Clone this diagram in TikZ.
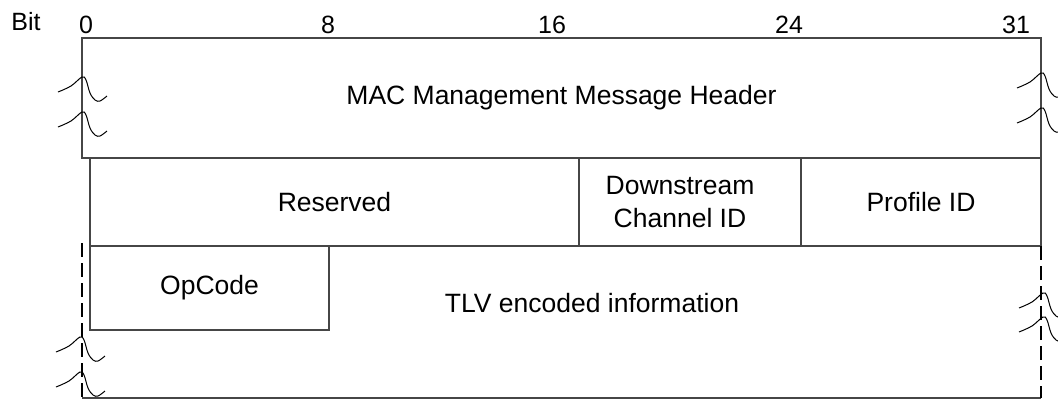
\documentclass[tikz,border=0pt]{standalone}
\usepackage{fontspec}
\setmainfont{Liberation Sans}
\definecolor{linegray}{RGB}{70,70,70}
\tikzset{
  field/.style={draw=linegray, line width=1.3pt, inner sep=0pt, outer sep=0pt,
    align=center, font=\fontsize{26.5}{33}\selectfont},
  lbl/.style={inner sep=0pt, align=center, font=\fontsize{26.5}{33}\selectfont},
  bitlbl/.style={inner sep=0pt, anchor=base, font=\fontsize{25}{30}\selectfont},
  dashline/.style={draw=black, line width=2.8pt, dash pattern=on 14pt off 6pt},
  solidline/.style={draw=linegray, line width=1.3pt},
  brk/.pic={\draw[black, line width=1pt] plot[smooth, tension=0.6] coordinates
    {(-26,15) (-13,9) (-2,0) (2,3) (6,16) (11,23) (16,24) (23,19)};}
}
\begin{document}
\begin{tikzpicture}[x=1pt, y=-1pt]
\useasboundingbox (0,0) rectangle (1058,402);
% bit labels
\node[bitlbl] (bit) at (26,30) {Bit};
\node[bitlbl] (b0) at (86,33) {0};
\node[bitlbl] (b8) at (328,33) {8};
\node[bitlbl] (b16) at (552,33) {16};
\node[bitlbl] (b24) at (789,33) {24};
\node[bitlbl] (b31) at (1016,33) {31};
% header
\node[field, minimum width=959pt, minimum height=120pt] (hdr) at (561.5,98) {MAC Management Message Header};
% row 2
\node[field, minimum width=489pt, minimum height=88pt] (res) at (334.5,202) {Reserved};
\node[field, minimum width=222pt, minimum height=88pt] (dcid) at (690,202) {};
\node[lbl] (dcidt) at (680,202) {Downstream\\Channel ID};
\node[field, minimum width=240pt, minimum height=88pt] (pid) at (921,202) {Profile ID};
% row 3
\node[field, minimum width=239pt, minimum height=84pt] (op) at (209.5,288) {OpCode};
\node[lbl] (tlv) at (592,303) {TLV encoded information};
\coordinate (bl) at (82,398);
\coordinate (br) at (1041,398);
\coordinate (tl) at (82,243);
\draw[solidline] (bl) -- (br);
\draw[dashline] (tl) -- (bl);
\draw[dashline] (pid.south east) -- (br);
% break marks
\pic at (84,77) {brk};
\pic at (84,112) {brk};
\pic at (1043,73) {brk};
\pic at (1043,108) {brk};
\pic at (82,337) {brk};
\pic at (82,372) {brk};
\pic at (1045,293) {brk};
\pic at (1045,317) {brk};
\end{tikzpicture}
\end{document}
